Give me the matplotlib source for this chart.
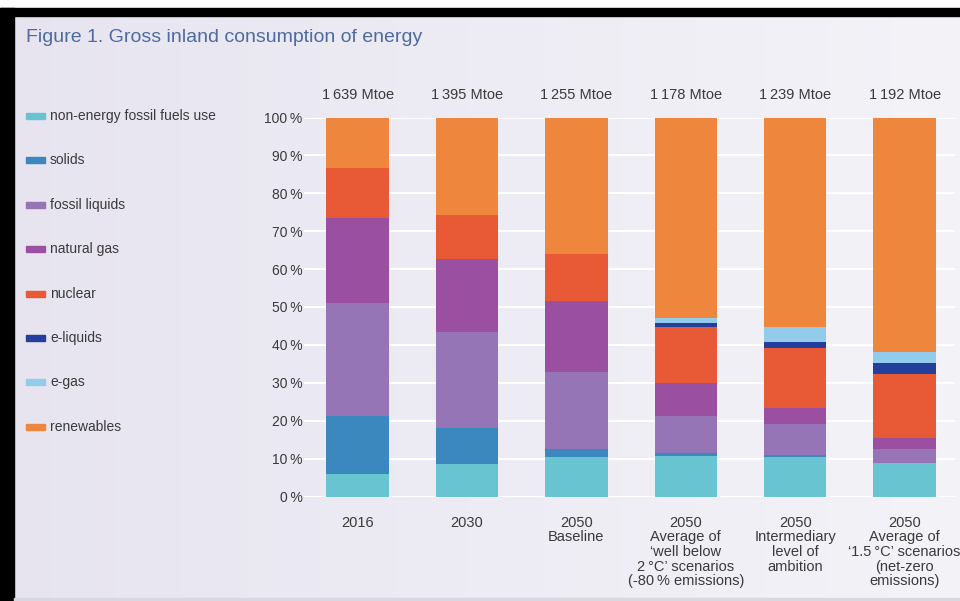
import numpy as np
import matplotlib
matplotlib.use('Agg')
import matplotlib.pyplot as plt
from matplotlib.patches import Rectangle

# shares of gross inland consumption (%), bottom to top
scenarios = ['2016', '2030', '2050\nBaseline',
             '2050\nAverage of\n\u2018well below\n2\u2009\u00b0C\u2019 scenarios\n(-80\u2009% emissions)',
             '2050\nIntermediary\nlevel of\nambition',
             '2050\nAverage of\n\u20181.5\u2009\u00b0C\u2019 scenarios\n(net-zero\nemissions)']
totals = ['1\u2009639 Mtoe', '1\u2009395 Mtoe', '1\u2009255 Mtoe',
          '1\u2009178 Mtoe', '1\u2009239 Mtoe', '1\u2009192 Mtoe']

non_energy = [5.9, 8.7, 10.5, 10.8, 10.5, 8.8]
solids = [15.4, 9.3, 2.0, 0.6, 0.4, 0.1]
fossil_liquids = [29.8, 25.5, 20.4, 9.9, 8.2, 3.6]
natural_gas = [22.5, 19.2, 18.8, 8.6, 4.2, 3.0]
nuclear = [13.2, 11.6, 12.2, 14.9, 15.9, 16.8]
e_liquids = [0.0, 0.0, 0.0, 1.1, 1.6, 2.8]
e_gas = [0.0, 0.0, 0.0, 1.3, 4.0, 3.1]
renewables = [13.2, 25.7, 36.1, 52.8, 55.2, 61.8]

series = [
    ('non-energy fossil fuels use', non_energy, '#69C4D2'),
    ('solids', solids, '#3A88BE'),
    ('fossil liquids', fossil_liquids, '#9575B6'),
    ('natural gas', natural_gas, '#9B4FA1'),
    ('nuclear', nuclear, '#E85935'),
    ('e-liquids', e_liquids, '#243F9B'),
    ('e-gas', e_gas, '#93CBEA'),
    ('renewables', renewables, '#EE863E'),
]
yticks = [0, 10, 20, 30, 40, 50, 60, 70, 80, 90, 100]

TEXT = '#3A3A3A'
FONT = ['Liberation Sans', 'DejaVu Sans']
W, H = 960, 601

fig = plt.figure(figsize=(9.6, 6.01), dpi=100)

# soft lavender panel background
bg = fig.add_axes([0, 0, 1, 1], zorder=-10)
grad = np.linspace(0, 1, 256)[None, :, None]
left = np.array([0.905, 0.895, 0.940])[None, None, :]
right = np.array([0.955, 0.953, 0.972])[None, None, :]
bg.imshow(left + (right - left) * grad, aspect='auto', extent=[0, 1, 0, 1])
bg.set_xlim(0, 1)
bg.set_ylim(0, 1)
bg.axis('off')


def px(x, y):
    return x / W, 1 - y / H


# frame
fig.patches.append(Rectangle((0, 1 - 8 / H), 1, 8 / H, transform=fig.transFigure,
                             color='white', zorder=5))
fig.patches.append(Rectangle((0, 1 - 16 / H), 1, 8 / H, transform=fig.transFigure,
                             color='black', zorder=5))
fig.patches.append(Rectangle((0, 0), 14 / W, 1 - 8 / H, transform=fig.transFigure,
                             color='black', zorder=5))
fig.patches.append(Rectangle((14 / W, 0), 1, 3 / H, transform=fig.transFigure,
                             color='#D9D8E2', zorder=5))

fig.text(*px(26, 38), 'Figure 1. Gross inland consumption of energy',
         fontsize=14, color='#4D6BA0', va='center', ha='left', family=FONT)

ax = fig.add_axes([304 / W, 1 - 496.5 / H, 651 / W, 379 / H])
ax.set_facecolor('none')
x = np.arange(len(scenarios))
bottom = np.zeros(len(scenarios))
for name, vals, color in series:
    ax.bar(x, vals, width=0.57, bottom=bottom, color=color, zorder=3)
    bottom += np.array(vals)

ax.set_xlim(-0.49, 5.46)
ax.set_ylim(0, 100)
ax.set_yticks(yticks)
ax.set_yticklabels([f'{v}\u2009%' for v in yticks], fontsize=10, color=TEXT,
                   family=FONT)
ax.set_xticks(x)
ax.set_xticklabels(scenarios, fontsize=10.5, color=TEXT, linespacing=1.05,
                   va='top', family=FONT)
ax.tick_params(axis='both', length=0)
ax.tick_params(axis='y', pad=1)
ax.tick_params(axis='x', pad=14)
ax.yaxis.grid(True, color='white', linewidth=1.5, zorder=0)
for s in ax.spines.values():
    s.set_visible(False)

# total consumption above each bar
for xi, lab in zip(x, totals):
    ax.annotate(lab, (xi, 100), xytext=(0, 16), textcoords='offset points',
                ha='center', va='center', fontsize=10.5, color=TEXT,
                family=FONT, annotation_clip=False)

# legend down the left side
for i, (name, vals, color) in enumerate(series):
    yc = 116 + i * 44.4
    fig.patches.append(Rectangle(px(26, yc + 3), 19 / W, 6 / H,
                                 transform=fig.transFigure, color=color))
    fig.text(*px(50, yc), name, fontsize=10, color=TEXT, va='center', ha='left',
             family=FONT)

fig.savefig('out.png', dpi=100)
